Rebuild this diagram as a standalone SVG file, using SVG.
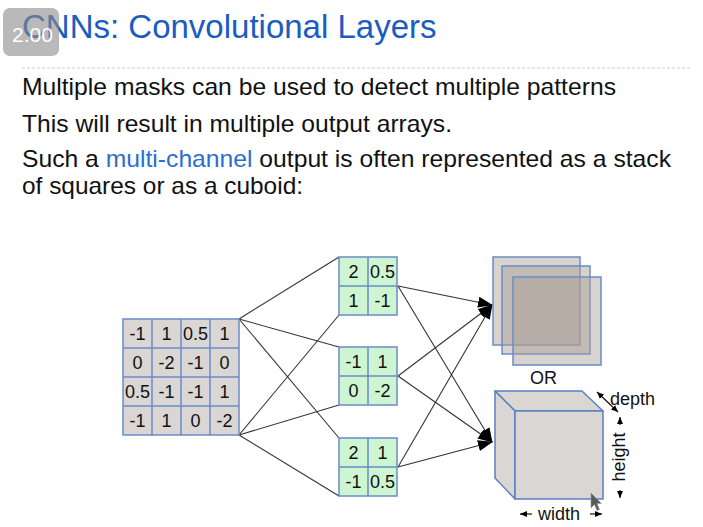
<svg xmlns="http://www.w3.org/2000/svg" width="703" height="527" viewBox="0 0 703 527">
<style>
text{font-family:"Liberation Sans",Arial,sans-serif;}
.body{font-size:24px;fill:#111;}
.cell{font-size:18px;fill:#111;text-anchor:middle;}
.gin{fill:#d9d6d3;stroke:#6a8cc8;stroke-width:1.5;}
.gm{fill:#cdf5d2;stroke:#6a8cc8;stroke-width:1.5;}
.ln{stroke:#6a8cc8;stroke-width:1.5;}
.conn{stroke:#333;stroke-width:1.1;fill:none;}
.lbl{font-size:18px;fill:#111;}
.sq{fill:#a89e95;fill-opacity:0.45;stroke:#6a8cc8;stroke-width:1.5;}
.cub{fill:#d9d6d3;stroke:#5b7fc4;stroke-width:1.5;stroke-linejoin:round;}
.dim{stroke:#111;stroke-width:1.2;fill:none;}
</style>
<defs>
<marker id="ah" markerUnits="userSpaceOnUse" markerWidth="15" markerHeight="11" refX="14" refY="5.5" orient="auto">
<path d="M0,0 L15,5.5 L0,11 Z" fill="#000"/>
</marker>
<marker id="sh" markerUnits="userSpaceOnUse" markerWidth="7" markerHeight="6" refX="7" refY="3" orient="auto-start-reverse">
<path d="M0,0 L7,3 L0,6 Z" fill="#000"/>
</marker>
</defs>
<rect width="703" height="527" fill="#fff"/>

<g id="title">
<text x="22" y="38" font-size="33" fill="#1a5cbf">CNNs: Convolutional Layers</text>
<line x1="22" y1="68" x2="692" y2="68" stroke="#c4ccda" stroke-width="1" stroke-dasharray="3,2"/>
</g>
<g id="badge">
<rect x="3" y="8" width="56" height="48" rx="7" fill="#8a8a8a" fill-opacity="0.6"/>
<text x="12" y="42" font-size="21" fill="#fff">2.00</text>
</g>

<g id="bullets">
<text class="body" x="22" y="95" textLength="594" lengthAdjust="spacingAndGlyphs">Multiple masks can be used to detect multiple patterns</text>
<text class="body" x="22" y="132" textLength="430" lengthAdjust="spacingAndGlyphs">This will result in multiple output arrays.</text>
<text class="body" x="22" y="167" textLength="649" lengthAdjust="spacingAndGlyphs">Such a <tspan fill="#2a6fd0">multi-channel</tspan> output is often represented as a stack</text>
<text class="body" x="22" y="194" textLength="281" lengthAdjust="spacingAndGlyphs">of squares or as a cuboid:</text>
</g>

<g id="connectors">
<line class="conn" x1="239" y1="319" x2="339" y2="257"/>
<line class="conn" x1="239" y1="435" x2="339" y2="315"/>
<line class="conn" x1="239" y1="319" x2="339" y2="347"/>
<line class="conn" x1="239" y1="435" x2="339" y2="405"/>
<line class="conn" x1="239" y1="319" x2="339" y2="438"/>
<line class="conn" x1="239" y1="435" x2="339" y2="496"/>
<line class="conn" x1="398" y1="286" x2="492" y2="305" marker-end="url(#ah)"/>
<line class="conn" x1="398" y1="286" x2="492" y2="442" marker-end="url(#ah)"/>
<line class="conn" x1="398" y1="376" x2="492" y2="305" marker-end="url(#ah)"/>
<line class="conn" x1="398" y1="376" x2="492" y2="442" marker-end="url(#ah)"/>
<line class="conn" x1="398" y1="467" x2="492" y2="305" marker-end="url(#ah)"/>
<line class="conn" x1="398" y1="467" x2="492" y2="442" marker-end="url(#ah)"/>
</g>

<g id="input">
<rect class="gin" x="123" y="319" width="116" height="116"/>
<path class="ln" d="M152,319V435M181,319V435M210,319V435M123,348H239M123,377H239M123,406H239"/>
<text class="cell" x="137.5" y="340">-1</text><text class="cell" x="166.5" y="340">1</text><text class="cell" x="195.5" y="340">0.5</text><text class="cell" x="224.5" y="340">1</text>
<text class="cell" x="137.5" y="369">0</text><text class="cell" x="166.5" y="369">-2</text><text class="cell" x="195.5" y="369">-1</text><text class="cell" x="224.5" y="369">0</text>
<text class="cell" x="137.5" y="398">0.5</text><text class="cell" x="166.5" y="398">-1</text><text class="cell" x="195.5" y="398">-1</text><text class="cell" x="224.5" y="398">1</text>
<text class="cell" x="137.5" y="427">-1</text><text class="cell" x="166.5" y="427">1</text><text class="cell" x="195.5" y="427">0</text><text class="cell" x="224.5" y="427">-2</text>
</g>

<g id="mask1">
<rect class="gm" x="339" y="257" width="58" height="58"/>
<path class="ln" d="M368,257V315M339,286H397"/>
<text class="cell" x="353.5" y="278">2</text><text class="cell" x="382.5" y="278">0.5</text>
<text class="cell" x="353.5" y="307">1</text><text class="cell" x="382.5" y="307">-1</text>
</g>
<g id="mask2">
<rect class="gm" x="339" y="347" width="58" height="58"/>
<path class="ln" d="M368,347V405M339,376H397"/>
<text class="cell" x="353.5" y="368">-1</text><text class="cell" x="382.5" y="368">1</text>
<text class="cell" x="353.5" y="397">0</text><text class="cell" x="382.5" y="397">-2</text>
</g>
<g id="mask3">
<rect class="gm" x="339" y="438" width="58" height="58"/>
<path class="ln" d="M368,438V496M339,467H397"/>
<text class="cell" x="353.5" y="459">2</text><text class="cell" x="382.5" y="459">1</text>
<text class="cell" x="353.5" y="488">-1</text><text class="cell" x="382.5" y="488">0.5</text>
</g>

<g id="stack">
<rect class="sq" x="493" y="257" width="87" height="88"/>
<rect class="sq" x="502" y="266" width="88" height="88"/>
<rect class="sq" x="513" y="277" width="88" height="88"/>
</g>
<g id="or">
<text class="lbl" x="530" y="384">OR</text>
</g>

<g id="cuboid">
<polygon class="cub" points="495,391 582,391 603,411 515,411"/>
<polygon class="cub" points="495,391 515,411 515,499 495,478"/>
<rect class="cub" x="515" y="411" width="88" height="88"/>
</g>

<g id="dims">
<line class="dim" x1="597" y1="392" x2="618" y2="412" marker-start="url(#sh)" marker-end="url(#sh)"/>
<text class="lbl" x="610" y="405">depth</text>
<line class="dim" x1="620" y1="425" x2="620" y2="417" marker-end="url(#sh)"/>
<line class="dim" x1="620" y1="490" x2="620" y2="498" marker-end="url(#sh)"/>
<text class="lbl" transform="translate(625,457) rotate(-90)" text-anchor="middle">height</text>
<line class="dim" x1="532" y1="514" x2="520" y2="514" marker-end="url(#sh)"/>
<line class="dim" x1="590" y1="514" x2="602" y2="514" marker-end="url(#sh)"/>
<text class="lbl" x="538" y="520">width</text>
</g>

<g id="cursor">
<polygon points="591,493 591,508 594.5,504.5 597,510.5 599.5,509.5 597,503.5 601.5,503.5" fill="#5a5a5a" stroke="#999" stroke-width="0.6"/>
</g>
</svg>
